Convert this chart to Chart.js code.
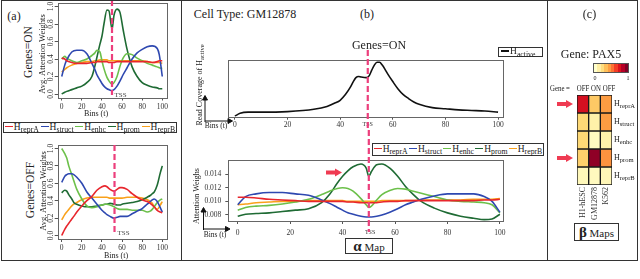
<!DOCTYPE html>
<html>
<head>
<meta charset="utf-8">
<script src="https://cdn.jsdelivr.net/npm/chart.js@4.4.0/dist/chart.umd.min.js"></script>
<style>
body{margin:0;width:640px;height:279px;position:relative;overflow:hidden;background:#fff;font-family:'Liberation Serif','Times New Roman',serif;color:#222}
canvas{position:absolute}
.t{position:absolute;white-space:nowrap;line-height:1;transform:translate(-50%,-50%)}
.r{transform:translate(-50%,-50%) rotate(-90deg)}
.n{transform:translate(-50%,-50%) scaleX(.8);font-size:8.5px}
sub{font-size:82%;vertical-align:baseline;position:relative;top:.3em}
.box{position:absolute;border:1px solid #333;background:#fff;box-sizing:border-box}
.leg{display:flex;align-items:center;justify-content:space-around;font-size:9.5px;line-height:1;white-space:nowrap}
.leg i{display:inline-block;width:8px;height:1.7px;margin-right:1px;vertical-align:middle;position:relative;top:-1px}
.rl{position:absolute;left:614px;font-size:8px;line-height:1;white-space:nowrap;transform:translateY(-50%)}
svg{position:absolute;left:0;top:0}
</style>
</head>
<body>

<canvas id="aOn" width="135" height="120" style="left:40px;top:0px"></canvas>
<canvas id="aOff" width="135" height="120" style="left:40px;top:140px"></canvas>
<canvas id="bActive" width="300" height="105" style="left:215px;top:30px"></canvas>
<canvas id="bAlpha" width="320" height="110" style="left:195px;top:130px"></canvas>
<canvas id="cBeta" width="70" height="140" style="left:560px;top:90px"></canvas>

<!-- panel (a) text -->
<div class="t" style="left:14px;top:15.5px;font-size:12px">(a)</div>
<div class="t r" style="left:29px;top:52px;font-size:11.5px">Genes=ON</div>
<div class="t r" style="left:42px;top:54px;font-size:8.5px">Avg. Attention Weights</div>
<div class="t" style="left:96px;top:113.5px;font-size:8px">Bins (t)</div>
<div class="t" style="left:120.5px;top:94.5px;font-size:7px;color:#444">TSS</div>
<div id="legA" class="box leg" style="left:3px;top:122px;width:174px;height:11px"></div>
<div class="t r" style="left:30.5px;top:190px;font-size:11.5px">Genes=OFF</div>
<div class="t r" style="left:43px;top:191px;font-size:8.5px">Avg. Attention Weights</div>
<div class="t" style="left:116px;top:256px;font-size:8px">Bins (t)</div>
<div class="t" style="left:123.5px;top:233px;font-size:7px;color:#444">TSS</div>

<!-- panel (b) text -->
<div class="t" style="left:245px;top:14px;font-size:12px">Cell Type: GM12878</div>
<div class="t" style="left:367px;top:13.5px;font-size:12px">(b)</div>
<div class="t" style="left:379px;top:45px;font-size:12px">Genes=ON</div>
<div class="box leg" style="left:498px;top:47px;width:45px;height:10px;justify-content:flex-start;padding-left:2px"><span><i style="background:#111"></i>H<sub>active</sub></span></div>
<div class="t r" style="left:200px;top:85px;font-size:8px">Read Coverage of H<sub>active</sub></div>
<div class="t" style="left:216px;top:125.5px;font-size:7.5px">Bins (t)</div>
<div class="t r" style="left:197px;top:196px;font-size:8px">Attention Weighs</div>
<div class="t" style="left:215px;top:234.5px;font-size:7.5px">Bins (t)</div>
<div id="legB" class="box leg" style="left:372px;top:143px;width:172px;height:13px"></div>
<div class="box" style="left:345px;top:238px;width:48px;height:16px;font-size:11px;line-height:14px;text-align:center"><b style="font-size:15px">&alpha;</b> Map</div>

<!-- panel (c) text -->
<div class="t" style="left:589.5px;top:13.5px;font-size:12px">(c)</div>
<div class="t" style="left:591px;top:53.5px;font-size:12px">Gene: PAX5</div>
<div id="cbar" style="position:absolute;left:593px;top:63px;width:36px;height:9.5px;display:flex;border:0.5px solid #555;box-sizing:border-box"></div>
<div class="t" style="left:595px;top:77.5px;font-size:6px">0</div>
<div class="t" style="left:628px;top:77.5px;font-size:6px">1</div>
<div class="t n" style="left:560px;top:88px">Gene =</div>
<div class="t n" style="left:582.5px;top:88px">OFF</div>
<div class="t n" style="left:596px;top:88px">ON</div>
<div class="t n" style="left:608.5px;top:88px">OFF</div>
<div id="rowLabels"></div>
<div class="box" style="left:574px;top:223px;width:45px;height:18px;font-size:11px;line-height:16px;text-align:center"><b style="font-size:15px">&beta;</b> Maps</div>

<svg width="640" height="279">
  <g fill="none" stroke="#333" stroke-width="1">
    <rect x="1.5" y="0.5" width="636" height="260"/>
    <line x1="181.5" y1="0.5" x2="181.5" y2="260.5"/>
    <line x1="547.5" y1="0.5" x2="547.5" y2="260.5"/>
  </g>
  <g fill="#ef3b52">
    <polygon points="326,170.5 335,170.5 335,168.5 342,172.5 335,176.5 335,174.5 326,174.5"/>
    <polygon points="557,102 566,102 566,100 573,104 566,108 566,106 557,106"/>
    <polygon points="557,156 566,156 566,154 573,158 566,162 566,160 557,160"/>
  </g>
  <g stroke="#111" stroke-width="1" fill="#111">
    <line x1="205" y1="122" x2="205" y2="99"/><polygon points="202.5,100 205,95.5 207.5,100"/>
    <line x1="205" y1="121" x2="229" y2="121"/><polygon points="228,118.5 232.5,121 228,123.5"/>
    <line x1="203.5" y1="230" x2="203.5" y2="211"/><polygon points="201,212 203.5,207.5 206,212"/>
    <line x1="203.5" y1="229" x2="226" y2="229"/><polygon points="225.5,226.5 230,229 225.5,231.5"/>
  </g>
</svg>

<script>
// ---- data ----
const seriesNames = ['reprA', 'struct', 'enhc', 'prom', 'reprB'];
const seriesColors = ['#e8262d', '#2e48b0', '#6cc04a', '#1f6b34', '#f9a11b'];

// (a) Genes=ON, average attention weights per bin
const aOnBins = [0, 3, 5, 10, 15, 20, 25, 30, 33, 35, 38, 40, 42, 45, 47, 50, 52, 55, 58, 61, 65, 70, 75, 80, 85, 90, 95, 97, 100];
const aOnReprA = [0.41, 0.4, 0.38, 0.36, 0.35, 0.35, 0.35, 0.36, 0.36, 0.37, 0.37, 0.37, 0.37, 0.37, 0.36, 0.36, 0.36, 0.37, 0.37, 0.37, 0.37, 0.37, 0.37, 0.37, 0.37, 0.36, 0.37, 0.38, 0.38];
const aOnStruct = [0.2, 0.33, 0.39, 0.48, 0.5, 0.5, 0.46, 0.35, 0.28, 0.22, 0.16, 0.12, 0.09, 0.06, 0.05, 0.04, 0.05, 0.09, 0.15, 0.22, 0.3, 0.4, 0.47, 0.51, 0.54, 0.55, 0.52, 0.45, 0.2];
const aOnEnhc = [0.4, 0.43, 0.41, 0.38, 0.36, 0.38, 0.4, 0.44, 0.47, 0.5, 0.48, 0.38, 0.29, 0.19, 0.15, 0.11, 0.13, 0.2, 0.32, 0.41, 0.46, 0.45, 0.41, 0.38, 0.35, 0.33, 0.31, 0.3, 0.29];
const aOnProm = [0.0, 0.02, 0.03, 0.05, 0.07, 0.09, 0.13, 0.2, 0.32, 0.42, 0.57, 0.66, 0.8, 0.96, 0.95, 0.74, 0.9, 0.97, 0.93, 0.74, 0.51, 0.31, 0.2, 0.13, 0.1, 0.08, 0.07, 0.06, 0.06];
const aOnReprB = [0.25, 0.28, 0.3, 0.33, 0.35, 0.36, 0.37, 0.37, 0.38, 0.38, 0.39, 0.39, 0.39, 0.39, 0.38, 0.38, 0.38, 0.38, 0.38, 0.38, 0.38, 0.38, 0.38, 0.38, 0.37, 0.36, 0.36, 0.36, 0.35];

// (a) Genes=OFF
const aOffBins = [0, 3, 5, 7, 10, 12, 15, 20, 25, 30, 35, 40, 43, 45, 48, 52, 55, 58, 60, 65, 70, 75, 80, 85, 88, 90, 92, 95, 98, 100];
const aOffReprA = [0.0, 0.07, 0.11, 0.14, 0.19, 0.22, 0.27, 0.34, 0.4, 0.45, 0.52, 0.56, 0.57, 0.56, 0.53, 0.51, 0.53, 0.55, 0.55, 0.53, 0.48, 0.44, 0.41, 0.39, 0.37, 0.35, 0.33, 0.29, 0.27, 0.26];
const aOffStruct = [0.61, 0.68, 0.7, 0.71, 0.71, 0.7, 0.67, 0.6, 0.5, 0.43, 0.36, 0.29, 0.26, 0.24, 0.22, 0.2, 0.21, 0.22, 0.22, 0.22, 0.25, 0.28, 0.31, 0.36, 0.39, 0.41, 0.42, 0.39, 0.32, 0.27];
const aOffEnhc = [1.0, 0.94, 0.89, 0.8, 0.7, 0.63, 0.53, 0.42, 0.34, 0.32, 0.33, 0.35, 0.36, 0.36, 0.35, 0.33, 0.31, 0.3, 0.3, 0.3, 0.29, 0.29, 0.29, 0.27, 0.28, 0.3, 0.33, 0.38, 0.41, 0.42];
const aOffProm = [0.49, 0.52, 0.51, 0.47, 0.42, 0.38, 0.36, 0.34, 0.33, 0.33, 0.34, 0.35, 0.36, 0.36, 0.37, 0.36, 0.35, 0.35, 0.36, 0.37, 0.38, 0.39, 0.41, 0.44, 0.46, 0.48, 0.5, 0.58, 0.72, 0.8];
const aOffReprB = [0.18, 0.24, 0.27, 0.3, 0.34, 0.36, 0.38, 0.41, 0.43, 0.44, 0.44, 0.44, 0.44, 0.44, 0.43, 0.43, 0.43, 0.43, 0.43, 0.44, 0.44, 0.44, 0.43, 0.41, 0.39, 0.37, 0.33, 0.3, 0.35, 0.39];

// (b) read coverage of H_active (relative)
const bActiveBins = [0, 2, 5, 10, 20, 30, 35, 38, 40, 42, 44, 45, 46, 47, 48, 50, 51, 52, 53, 54, 55, 56, 57, 58, 60, 62, 64, 66, 68, 70, 75, 80, 85, 90, 95, 100];
const bActive = [0.01, 0.06, 0.08, 0.08, 0.09, 0.13, 0.18, 0.24, 0.29, 0.39, 0.53, 0.62, 0.69, 0.71, 0.7, 0.69, 0.72, 0.82, 0.91, 0.96, 0.96, 0.91, 0.84, 0.76, 0.62, 0.49, 0.39, 0.32, 0.26, 0.22, 0.16, 0.14, 0.12, 0.11, 0.1, 0.08];

// (b) alpha map attention weights
const bAlphaBins = [0, 3, 7, 12, 17, 22, 27, 32, 35, 38, 40, 42, 44, 47, 49, 50, 51, 53, 55, 58, 61, 64, 67, 70, 75, 80, 85, 90, 94, 97, 100];
const bReprA = [0.0106, 0.0106, 0.0105, 0.0103, 0.0102, 0.0101, 0.010, 0.010, 0.010, 0.010, 0.010, 0.0099, 0.0099, 0.0098, 0.0098, 0.0098, 0.0098, 0.0098, 0.0099, 0.010, 0.010, 0.0101, 0.0101, 0.0101, 0.0101, 0.0101, 0.0101, 0.0101, 0.0102, 0.0102, 0.0103];
const bStruct = [0.0095, 0.0107, 0.0111, 0.0113, 0.0113, 0.0111, 0.0109, 0.0102, 0.0097, 0.0091, 0.0087, 0.0083, 0.0081, 0.0078, 0.0077, 0.0077, 0.0077, 0.0078, 0.008, 0.0084, 0.0089, 0.0095, 0.0099, 0.0103, 0.0108, 0.0111, 0.0111, 0.0111, 0.0107, 0.010, 0.0084];
const bEnhc = [0.0087, 0.0091, 0.0093, 0.0094, 0.0096, 0.0099, 0.0103, 0.011, 0.0115, 0.0119, 0.012, 0.0119, 0.0115, 0.0104, 0.0095, 0.0091, 0.0093, 0.0102, 0.011, 0.0116, 0.0119, 0.0118, 0.0115, 0.0112, 0.0107, 0.0102, 0.010, 0.0099, 0.0098, 0.0095, 0.0083];
const bProm = [0.0078, 0.0081, 0.0082, 0.0083, 0.0085, 0.0087, 0.0089, 0.0098, 0.011, 0.0127, 0.0137, 0.0145, 0.0151, 0.0155, 0.0149, 0.0137, 0.0144, 0.0154, 0.0155, 0.0149, 0.0137, 0.0122, 0.011, 0.010, 0.009, 0.0083, 0.0078, 0.0075, 0.0073, 0.0074, 0.0081];
const bReprB = [0.0095, 0.0096, 0.0098, 0.0099, 0.010, 0.010, 0.0101, 0.0101, 0.0101, 0.0101, 0.0101, 0.010, 0.010, 0.010, 0.010, 0.010, 0.010, 0.010, 0.0101, 0.0101, 0.0101, 0.0101, 0.0101, 0.0102, 0.0102, 0.0102, 0.0102, 0.0103, 0.0103, 0.0103, 0.0104];

// tick labels
const aTicks = [0, 20, 40, 60, 80, 100];
const aTickLabels = ['0', '20', '40', '60', '80', '100'];
const aYTicks = [0, 0.2, 0.4, 0.6, 0.8, 1.0];
const bTicks = [0, 20, 40, 50.5, 60, 80, 100];
const bTickLabels = ['0', '20', '40', 'TSS', '60', '80', '100'];
const bYTicks = [0.008, 0.010, 0.012, 0.014];

// (c) beta maps for PAX5 (rows = marks, columns = cell lines)
const cellLines = ['H1-hESC', 'GM12878', 'K562'];
const betaReprA = [0.8, 0.3, 0.45];
const betaStruct = [0.25, 0.1, 0.45];
const betaEnhc = [0.25, 0.03, 0.1];
const betaProm = [0.28, 0.97, 0.48];
const betaReprB = [0.05, 0.04, 0.06];

// ---- helpers ----
Chart.defaults.font.family = "'Liberation Serif', 'Times New Roman', serif";
Chart.defaults.color = '#333';

const ylOrRd = ['#ffffcc', '#ffeda0', '#fed976', '#feb24c', '#fd8d3c', '#fc4e2a', '#e31a1c', '#bd0026', '#800026'];
function hexRgb(h) { return [1, 3, 5].map(i => parseInt(h.slice(i, i + 2), 16)); }
function heatColor(v) {
    const t = Math.max(0, Math.min(1, v)) * (ylOrRd.length - 1);
    const i = Math.min(Math.floor(t), ylOrRd.length - 2);
    const f = t - i;
    const a = hexRgb(ylOrRd[i]), b = hexRgb(ylOrRd[i + 1]);
    return 'rgb(' + a.map((c, k) => Math.round(c + (b[k] - c) * f)).join(',') + ')';
}

const framePlugin = {
    id: 'frame',
    afterDatasetsDraw(chart) {
        const a = chart.chartArea, c = chart.ctx;
        c.save();
        c.strokeStyle = '#666';
        c.lineWidth = 1;
        c.strokeRect(Math.round(a.left) + 0.5, Math.round(a.top) + 0.5, Math.round(a.right - a.left), Math.round(a.bottom - a.top));
        c.restore();
    }
};

// dashed TSS marker, drawn through the x scale
const tssPlugin = {
    id: 'tss',
    afterDatasetsDraw(chart, args, o) {
        const x = chart.scales.x.getPixelForValue(o.value);
        const c = chart.ctx;
        c.save();
        c.strokeStyle = '#ec3f7c';
        c.lineWidth = 2.2;
        c.setLineDash([6, 3]);
        c.beginPath();
        c.moveTo(x, o.from);
        c.lineTo(x, o.to);
        c.stroke();
        c.restore();
    }
};

function xScale(min, max, ticks, labels, h, pad) {
    return {
        type: 'linear', min: min, max: max,
        afterBuildTicks: s => { s.ticks = ticks.map(v => ({ value: v })); },
        afterFit: s => { s.height = h; s.paddingLeft = 0; s.paddingRight = 0; },
        ticks: {
            autoSkip: false, maxRotation: 0, padding: pad, color: '#333',
            font: ctx => ({ size: labels[ctx.index] === 'TSS' ? 6 : 7.5 }),
            callback: (v, i) => labels[i]
        },
        grid: {
            drawOnChartArea: false, tickLength: 3,
            color: ctx => labels[ctx.index] === 'TSS' ? 'rgba(0,0,0,0)' : '#555'
        },
        border: { display: false }
    };
}

function lineChart(id, bins, values, scales, pad, tss) {
    return new Chart(document.getElementById(id), {
        type: 'line',
        data: {
            datasets: values.map((v, i) => ({
                label: seriesNames[i] || 'active',
                data: v.map((y, k) => ({ x: bins[k], y: y })),
                borderColor: values.length === 1 ? '#111' : seriesColors[i],
                borderWidth: 1.6,
                pointRadius: 0,
                cubicInterpolationMode: 'monotone',
                fill: false
            }))
        },
        options: {
            responsive: false,
            animation: false,
            events: [],
            layout: { padding: pad },
            plugins: { legend: { display: false }, tooltip: { enabled: false }, tss: tss },
            scales: scales
        },
        plugins: [framePlugin, tssPlugin]
    });
}

function aYScale() {
    return {
        min: -0.04, max: 1.04,
        afterBuildTicks: s => { s.ticks = aYTicks.map(v => ({ value: v })); },
        afterFit: s => { s.width = 17.7; s.paddingTop = 0; s.paddingBottom = 0; },
        ticks: { autoSkip: false, minRotation: 90, maxRotation: 90, crossAlign: 'center', padding: -1, font: { size: 7.5 }, callback: v => v.toFixed(1) },
        grid: { drawOnChartArea: false, tickLength: 3, color: '#555' },
        border: { display: false }
    };
}

// ---- charts ----
lineChart('aOn', aOnBins, [aOnReprA, aOnStruct, aOnEnhc, aOnProm, aOnReprB],
    { x: xScale(-4, 104, aTicks, aTickLabels, 14, 2), y: aYScale() },
    { left: 0, right: 8.7, top: 3, bottom: 8.5 }, { value: 50, from: 0, to: 95 });

lineChart('aOff', aOffBins, [aOffReprA, aOffStruct, aOffEnhc, aOffProm, aOffReprB],
    { x: xScale(-4, 104, aTicks, aTickLabels, 14, 2), y: aYScale() },
    { left: 0, right: 8.7, top: 5, bottom: 7 }, { value: 52.5, from: 5, to: 93 });

lineChart('bActive', bActiveBins, [bActive],
    { x: xScale(-2.5, 102, bTicks, bTickLabels, 14, 1), y: { display: false, min: 0, max: 1 } },
    { left: 13.3, right: 11.7, top: 30, bottom: 4.3 }, { value: 50.5, from: 20, to: 100 });

lineChart('bAlpha', bAlphaBins, [bReprA, bStruct, bEnhc, bProm, bReprB],
    {
        x: xScale(-3.6, 101.3, bTicks, bTickLabels, 16, 5),
        y: {
            min: 0.0071, max: 0.0161,
            afterBuildTicks: s => { s.ticks = bYTicks.map(v => ({ value: v })); },
            afterFit: s => { s.width = 33.3; s.paddingTop = 0; s.paddingBottom = 0; },
            ticks: { autoSkip: false, padding: 4, font: { size: 7.5 }, callback: v => v.toFixed(3) },
            grid: { drawOnChartArea: false, tickLength: 3, color: '#555' },
            border: { display: false }
        }
    },
    { left: 0, right: 11.7, top: 30, bottom: 3 }, { value: 50, from: 0, to: 102 });

const betaRows = [betaReprA, betaStruct, betaEnhc, betaProm, betaReprB];
new Chart(document.getElementById('cBeta'), {
    type: 'bar',
    data: {
        labels: cellLines,
        datasets: betaRows.map((row, r) => ({
            label: seriesNames[r],
            data: row.map(() => 1),
            backgroundColor: row.map(heatColor),
            borderColor: '#1a1a1a',
            borderWidth: 1,
            borderSkipped: false,
            barPercentage: 1,
            categoryPercentage: 1
        }))
    },
    options: {
        responsive: false,
        animation: false,
        events: [],
        layout: { padding: { left: 17, right: 18, top: 5, bottom: 5 } },
        plugins: { legend: { display: false }, tooltip: { enabled: false } },
        scales: {
            x: {
                stacked: true,
                grid: { display: false, drawTicks: false },
                border: { display: false },
                afterFit: s => { s.height = 40; s.paddingLeft = 0; s.paddingRight = 0; },
                ticks: { autoSkip: false, minRotation: 90, maxRotation: 90, padding: 2, font: { size: 8 }, color: '#333' }
            },
            y: { stacked: true, reverse: true, display: false, min: 0, max: betaRows.length }
        }
    }
});

// ---- html legends / labels ----
function fillLegend(id) {
    document.getElementById(id).innerHTML = seriesNames.map((n, i) =>
        '<span><i style="background:' + seriesColors[i] + '"></i>H<sub>' + n + '</sub></span>').join('');
}
fillLegend('legA');
fillLegend('legB');

document.getElementById('rowLabels').innerHTML = seriesNames.map((n, r) =>
    '<div class="rl" style="top:' + (104 + r * 18) + 'px">H<sub>' + n + '</sub></div>').join('');

document.getElementById('cbar').innerHTML = Array.from({ length: 10 }, (_, i) =>
    '<span style="flex:1;background:' + heatColor(i / 9) + '"></span>').join('');
</script>
</body>
</html>
